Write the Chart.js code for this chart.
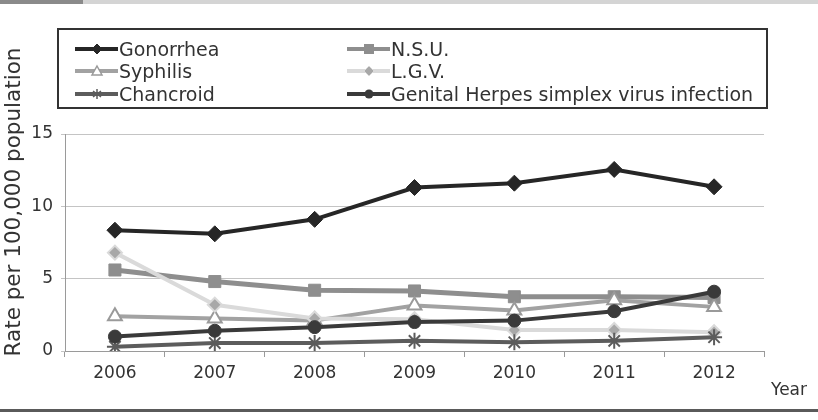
<!DOCTYPE html>
<html>
<head>
<meta charset="utf-8">
<script src="https://cdn.jsdelivr.net/npm/chart.js@4/dist/chart.umd.min.js"></script>
<style>
  html, body { margin: 0; padding: 0; background: #fff; }
  #wrap { position: relative; width: 818px; height: 420px; overflow: hidden; font-family: "DejaVu Sans", sans-serif; color: #333; }
  #c { position: absolute; left: 0; top: 0; }
  .topband { position: absolute; left: 0; top: 0; width: 818px; height: 4px; background: #d4d4d4; }
  .topblock { position: absolute; left: 0; top: 0; width: 83px; height: 4px; background: #8a8a8a; }
  .botline { position: absolute; left: 0; top: 409px; width: 818px; height: 3px; background: #5a5a5a; }
  #legend { position: absolute; left: 57px; top: 28px; width: 707px; height: 77px; border: 2px solid #333; }
  .item { position: absolute; height: 24px; display: flex; align-items: center; font-size: 19px; color: #333; white-space: nowrap; }
  .item svg { display: block; margin-right: 1px; }
  #year { position: absolute; left: 771px; top: 379px; font-size: 17px; color: #333; }
  #ytitle { position: absolute; left: 13px; top: 202px; width: 400px; margin-left: -200px; margin-top: -13px; height: 26px; line-height: 26px;
            text-align: center; font-size: 21.5px; color: #333; transform: rotate(-90deg); white-space: nowrap; }
</style>
</head>
<body>
<div id="wrap">
  <div class="topband"></div>
  <div class="topblock"></div>
  <canvas id="c" width="818" height="420"></canvas>
  <div id="legend"></div>
  <div id="ytitle">Rate per 100,000 population</div>
  <div id="year">Year</div>
  <div class="botline"></div>
</div>
<script>
// ---- Data ----
const years = ["2006", "2007", "2008", "2009", "2010", "2011", "2012"];
const gonorrhea = [8.35, 8.1, 9.1, 11.3, 11.6, 12.55, 11.35];
const nsu       = [5.6, 4.8, 4.2, 4.15, 3.75, 3.75, 3.7];
const syphilis  = [2.4, 2.25, 2.1, 3.15, 2.8, 3.5, 3.05];
const lgv       = [6.8, 3.2, 2.25, 2.2, 1.45, 1.45, 1.3];
const chancroid = [0.3, 0.55, 0.55, 0.7, 0.6, 0.7, 0.95];
const herpes    = [1.0, 1.4, 1.65, 2.0, 2.1, 2.75, 4.1];
const seriesNames = ["Gonorrhea", "N.S.U.", "Syphilis", "L.G.V.", "Chancroid", "Genital Herpes simplex virus infection"];
const yTicks = [0, 5, 10, 15];

// ---- Styles ----
const styles = [
  { line: "#262626", width: 4, pt: "rectRot", r: 8, fill: "#262626", stroke: "#262626", bw: 1 },
  { line: "#8e8e8e", width: 5, pt: "rect",    r: 8.5, fill: "#8e8e8e", stroke: "#8e8e8e", bw: 1 },
  { line: "#a2a2a2", width: 4, pt: "triangle",r: 8, fill: "#ffffff", stroke: "#9a9a9a", bw: 2 },
  { line: "#dadada", width: 4, pt: "rectRot", r: 7, fill: "#a8a8a8", stroke: "#dadada", bw: 2 },
  { line: "#5c5c5c", width: 4, pt: "star",    r: 8, fill: "#5c5c5c", stroke: "#5c5c5c", bw: 2 },
  { line: "#3a3a3a", width: 4, pt: "circle",  r: 6.5, fill: "#3a3a3a", stroke: "#3a3a3a", bw: 1 }
];
const values = [gonorrhea, nsu, syphilis, lgv, chancroid, herpes];

const datasets = values.map((v, i) => ({
  label: seriesNames[i],
  data: v,
  borderColor: styles[i].line,
  borderWidth: styles[i].width,
  pointStyle: styles[i].pt,
  pointRadius: styles[i].r,
  pointBackgroundColor: styles[i].fill,
  pointBorderColor: styles[i].stroke,
  pointBorderWidth: styles[i].bw,
  tension: 0,
  fill: false,
  order: 6 - i
}));

new Chart(document.getElementById("c"), {
  type: "line",
  data: { labels: years, datasets },
  options: {
    responsive: false,
    animation: false,
    events: [],
    layout: { padding: { left: 0, top: 134, right: 54, bottom: 29 } },
    plugins: { legend: { display: false }, tooltip: { enabled: false } },
    scales: {
      x: {
        offset: true,
        grid: { offset: true, drawOnChartArea: false, drawTicks: true, tickLength: 6, color: "#9a9a9a" },
        border: { color: "#9a9a9a", width: 1 },
        ticks: { color: "#333", font: { family: "DejaVu Sans", size: 17 }, padding: 6, maxRotation: 0 },
        afterFit: s => { s.height = 40; }
      },
      y: {
        min: 0, max: 15,
        afterBuildTicks: s => { s.ticks = yTicks.map(v => ({ value: v })); },
        grid: { color: "#c4c4c4", tickLength: 4, drawTicks: true },
        border: { color: "#9a9a9a", width: 1 },
        ticks: { color: "#333", font: { family: "DejaVu Sans", size: 17 }, padding: 8 },
        afterFit: s => { s.width = 65; }
      }
    }
  }
});

// ---- HTML legend ----
function markerSvg(s) {
  const cx = 22, cy = 12;
  let m = "";
  if (s.pt === "rectRot") m = `<polygon points="${cx},${cy-5} ${cx+5},${cy} ${cx},${cy+5} ${cx-5},${cy}" fill="${s.fill}" stroke="${s.stroke}" stroke-width="1"/>`;
  else if (s.pt === "rect") m = `<rect x="${cx-5}" y="${cy-5}" width="10" height="10" fill="${s.fill}"/>`;
  else if (s.pt === "triangle") m = `<polygon points="${cx},${cy-5} ${cx+5},${cy+4} ${cx-5},${cy+4}" fill="#fff" stroke="${s.stroke}" stroke-width="1.5"/>`;
  else if (s.pt === "star") m = `<path d="M${cx},${cy-5}V${cy+5}M${cx-4},${cy-3}L${cx+4},${cy+3}M${cx-4},${cy+3}L${cx+4},${cy-3}" stroke="${s.stroke}" stroke-width="1.5"/>`;
  else if (s.pt === "circle") m = `<circle cx="${cx}" cy="${cy}" r="4.5" fill="${s.fill}"/>`;
  return `<svg width="43" height="24"><line x1="0" y1="${cy}" x2="43" y2="${cy}" stroke="${s.line}" stroke-width="4"/>${m}</svg>`;
}
const leg = document.getElementById("legend");
const colX = [16, 288];
const rowY = [7, 29, 52];
seriesNames.forEach((n, i) => {
  const d = document.createElement("div");
  d.className = "item";
  d.style.left = colX[i % 2] + "px";
  d.style.top = rowY[Math.floor(i / 2)] + "px";
  d.innerHTML = markerSvg(styles[i]) + "<span>" + n + "</span>";
  leg.appendChild(d);
});
</script>
</body>
</html>
